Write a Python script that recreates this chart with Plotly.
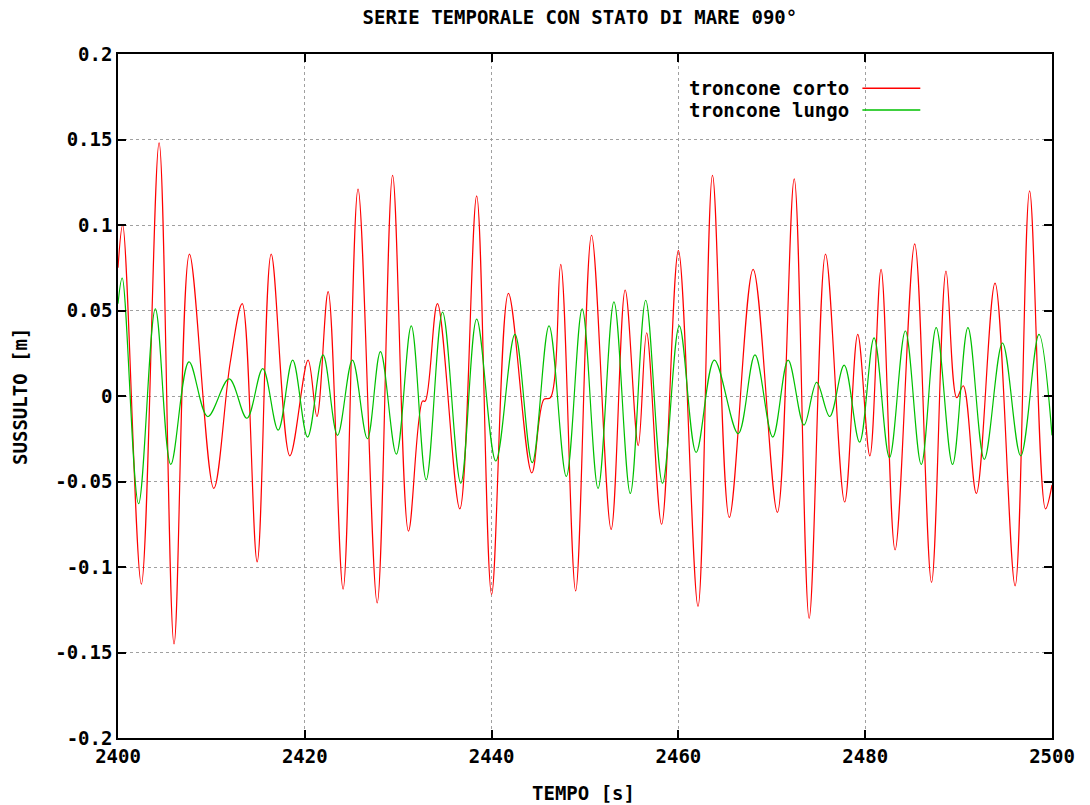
import plotly.graph_objects as go

# ---- data (local extrema of each series) ----
corto_t = [2400.0, 2400.5, 2402.5, 2404.4, 2406.0, 2407.65, 2410.25, 2412.0, 2413.3, 2414.9,
           2416.4, 2418.4, 2420.35, 2421.3, 2422.5, 2424.1, 2425.7, 2427.75, 2429.4, 2431.1,
           2432.6, 2432.9, 2434.2, 2436.6, 2438.4, 2440.0, 2441.8, 2444.3, 2445.6, 2446.3,
           2447.4, 2449.0, 2450.7, 2452.8, 2454.3, 2455.7, 2456.6, 2458.2, 2460.0, 2462.1,
           2463.65, 2465.45, 2468.0, 2470.6, 2472.4, 2474.0, 2475.75, 2477.8, 2479.2, 2480.5,
           2481.7, 2483.2, 2485.3, 2487.1, 2488.65, 2489.8, 2490.5, 2491.9, 2493.9, 2496.05,
           2497.6, 2499.3, 2500.0]
corto_v = [0.075, 0.100, -0.110, 0.148, -0.145, 0.083, -0.054, 0.019, 0.054, -0.097,
           0.083, -0.035, 0.021, -0.012, 0.061, -0.113, 0.121, -0.121, 0.129, -0.079,
           -0.003, -0.003, 0.054, -0.066, 0.117, -0.116, 0.060, -0.045, -0.002, -0.001,
           0.077, -0.114, 0.094, -0.078, 0.062, -0.029, 0.037, -0.075, 0.085, -0.123,
           0.129, -0.071, 0.074, -0.068, 0.127, -0.130, 0.083, -0.062, 0.036, -0.035,
           0.074, -0.090, 0.089, -0.109, 0.073, -0.001, 0.006, -0.057, 0.066, -0.111,
           0.120, -0.066, -0.052]

lungo_t = [2400.0, 2400.45, 2402.2, 2404.0, 2405.65, 2407.6, 2409.6, 2411.9, 2413.8, 2415.5,
           2417.15, 2418.7, 2420.3, 2421.95, 2423.5, 2425.1, 2426.7, 2428.1, 2429.8, 2431.4,
           2433.0, 2434.75, 2436.7, 2438.4, 2440.45, 2442.5, 2444.35, 2446.15, 2448.0, 2449.7,
           2451.4, 2453.1, 2454.85, 2456.5, 2458.3, 2460.1, 2461.9, 2463.85, 2466.4, 2468.2,
           2470.1, 2471.75, 2473.45, 2474.8, 2476.2, 2477.75, 2479.4, 2480.95, 2482.6, 2484.3,
           2486.0, 2487.6, 2489.35, 2491.0, 2492.75, 2494.7, 2496.65, 2498.6, 2500.0]
lungo_v = [0.054, 0.069, -0.063, 0.051, -0.040, 0.020, -0.012, 0.010, -0.013, 0.016,
           -0.020, 0.021, -0.024, 0.024, -0.023, 0.021, -0.025, 0.026, -0.034, 0.041,
           -0.049, 0.049, -0.051, 0.045, -0.038, 0.036, -0.039, 0.041, -0.047, 0.051,
           -0.054, 0.055, -0.057, 0.056, -0.051, 0.041, -0.033, 0.021, -0.022, 0.024,
           -0.024, 0.021, -0.017, 0.008, -0.012, 0.018, -0.027, 0.034, -0.036, 0.038,
           -0.040, 0.040, -0.040, 0.040, -0.037, 0.031, -0.035, 0.036, -0.023]

x_ticks = [2400, 2420, 2440, 2460, 2480, 2500]
x_ticktext = ["2400", "2420", "2440", "2460", "2480", "2500"]
y_ticks = [0.2, 0.15, 0.1, 0.05, 0, -0.05, -0.1, -0.15, -0.2]
y_ticktext = ["0.2", "0.15", "0.1", "0.05", "0", "-0.05", "-0.1", "-0.15", "-0.2"]

series_names = ["troncone corto", "troncone lungo"]
title_text = "SERIE TEMPORALE CON STATO DI MARE 090°"
x_title = "TEMPO [s]"
y_title = "SUSSULTO [m]"

RED = "#ff0000"
GREEN = "#00c000"
FONT = "DejaVu Sans Mono"
FS = 19
bold_font = dict(family=FONT, size=FS, color="black", weight="bold")

fig = go.Figure()
fig.add_trace(go.Scatter(x=corto_t, y=corto_v, mode="lines", name=series_names[0],
                         line=dict(color=RED, width=1.2, shape="spline", smoothing=1.0),
                         showlegend=False))
fig.add_trace(go.Scatter(x=lungo_t, y=lungo_v, mode="lines", name=series_names[1],
                         line=dict(color=GREEN, width=1.2, shape="spline", smoothing=1.0),
                         showlegend=False))

axis_common = dict(
    showline=True, linecolor="black", linewidth=1.5, mirror="ticks",
    ticks="inside", ticklen=8, tickcolor="black", tickwidth=1.5,
    showgrid=True, gridcolor="#a0a0a0", griddash="dot", gridwidth=1,
    zeroline=False, automargin=False,
    tickfont=bold_font,
)

fig.update_layout(
    width=1090, height=805,
    margin=dict(l=118, r=38, t=54, b=67, autoexpand=False),
    paper_bgcolor="white", plot_bgcolor="white",
    title=dict(text=title_text, x=0.532, xanchor="center", y=0.978, yanchor="middle",
               font=bold_font),
    xaxis=dict(range=[2400, 2500], tickvals=x_ticks, ticktext=x_ticktext, **axis_common),
    yaxis=dict(range=[-0.2, 0.2], tickvals=y_ticks, ticktext=y_ticktext, **axis_common),
)

# axis titles placed like gnuplot's
fig.add_annotation(xref="paper", yref="paper", x=0.498, y=-0.080, text=x_title,
                   showarrow=False, xanchor="center", yanchor="middle", font=bold_font)
fig.add_annotation(xref="paper", yref="paper", x=-0.105, y=0.5, text=y_title,
                   showarrow=False, xanchor="center", yanchor="middle", textangle=-90,
                   font=bold_font)

# gnuplot-style key: text right-aligned, line sample on the right
key_rows = [(series_names[0], RED, 0.950), (series_names[1], GREEN, 0.918)]
for name, col, yy in key_rows:
    fig.add_annotation(xref="paper", yref="paper", x=0.785, y=yy, text=name,
                       showarrow=False, xanchor="right", yanchor="middle", font=bold_font)
    fig.add_shape(type="line", xref="paper", yref="paper", x0=0.797, x1=0.859,
                  y0=yy, y1=yy, line=dict(color=col, width=1.5))

fig.write_html("out.html")
